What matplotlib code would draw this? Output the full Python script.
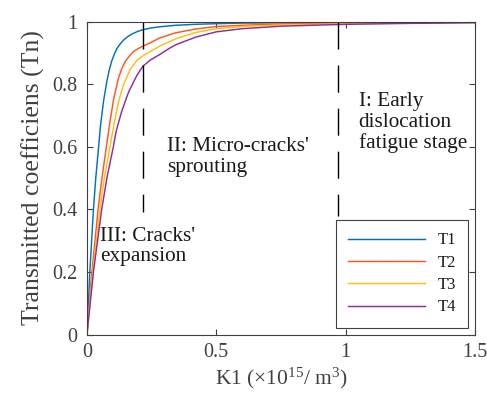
import numpy as np
import matplotlib.pyplot as plt

plt.rcParams['font.family'] = ['Liberation Serif', 'DejaVu Serif']
plt.rcParams['mathtext.fontset'] = 'custom'
plt.rcParams['mathtext.rm'] = 'Liberation Serif'

# values (K1 in 1e15/m^3, Tn)
k_t1 = [0, 0.011, 0.025, 0.034, 0.045, 0.052, 0.064, 0.077, 0.087, 0.097, 0.107, 0.116, 0.13,
        0.142, 0.158, 0.174, 0.195, 0.213, 0.245, 0.28, 0.344, 0.42, 0.5, 0.6, 0.75, 1.0, 1.25, 1.5]
tn_t1 = [0, 0.2, 0.4, 0.5, 0.6, 0.665, 0.745, 0.81, 0.848, 0.877, 0.898, 0.914, 0.93,
         0.941, 0.952, 0.96, 0.968, 0.973, 0.979, 0.983, 0.988, 0.991, 0.993, 0.995, 0.996, 0.998, 0.999, 0.999]

k_t2 = [0, 0.019, 0.043, 0.058, 0.075, 0.088, 0.103, 0.122, 0.135, 0.148, 0.163, 0.18, 0.197,
        0.213, 0.245, 0.28, 0.32, 0.344, 0.42, 0.5, 0.6, 0.75, 1.0, 1.25, 1.5]
tn_t2 = [0, 0.2, 0.4, 0.5, 0.6, 0.675, 0.752, 0.82, 0.85, 0.872, 0.889, 0.904, 0.913,
         0.92, 0.932, 0.947, 0.958, 0.964, 0.976, 0.984, 0.988, 0.992, 0.995, 0.997, 0.998]

k_t3 = [0, 0.022, 0.05, 0.067, 0.089, 0.103, 0.122, 0.142, 0.168, 0.193, 0.216, 0.245, 0.28,
        0.32, 0.344, 0.42, 0.5, 0.6, 0.75, 1.0, 1.25, 1.5]
tn_t3 = [0, 0.2, 0.4, 0.5, 0.6, 0.665, 0.745, 0.8, 0.848, 0.876, 0.89, 0.904, 0.921,
         0.936, 0.945, 0.965, 0.977, 0.984, 0.989, 0.993, 0.995, 0.997]

k_t4 = [0, 0.025, 0.057, 0.077, 0.102, 0.113, 0.135, 0.161, 0.193, 0.216, 0.245, 0.28, 0.32,
        0.344, 0.42, 0.5, 0.6, 0.75, 1.0, 1.25, 1.5]
tn_t4 = [0, 0.2, 0.4, 0.5, 0.6, 0.65, 0.715, 0.775, 0.828, 0.857, 0.877, 0.894, 0.915,
         0.926, 0.95, 0.967, 0.977, 0.985, 0.991, 0.994, 0.996]

labels = ['T1', 'T2', 'T3', 'T4']
colors = ['#0072BD', '#FF5520', '#FFBE10', '#8E2C9E']

# stage boundaries
k_bounds = [0.216, 0.97]
bound_lo = [0.39, 0.38]

stage_txt = ["III: Cracks'\nexpansion", "II: Micro-cracks'\nsprouting", "I: Early\ndislocation\nfatigue stage"]
stage_pos = [(0.05, 0.345), (0.31, 0.63), (1.05, 0.775)]

grey = '#404040'

fig = plt.figure(figsize=(4.87, 3.96), dpi=100)
ax = fig.add_axes([0.1786, 0.1553, 0.7967, 0.7904])

series = [(k_t1, tn_t1), (k_t2, tn_t2), (k_t3, tn_t3), (k_t4, tn_t4)]
for (k, t), lab, c in zip(series, labels, colors):
    ax.plot(k, t, color=c, lw=1.05, label=lab)

for kb, lo in zip(k_bounds, bound_lo):
    ax.plot([kb, kb], [1.0, lo], color='k', lw=1.0, ls=(0, (19.5, 11.5)))

for s, (x, y) in zip(stage_txt, stage_pos):
    ax.text(x, y, s, fontsize=15.3, color='#1a1a1a', ha='left', va='top', linespacing=1.12)

ax.set_xlim(0, 1.5)
ax.set_ylim(0, 1)
ax.set_xticks([0, 0.5, 1, 1.5])
ax.set_xticklabels(['0', '0.5', '1', '1.5'])
ax.set_yticks([0, 0.2, 0.4, 0.6, 0.8, 1])
ax.set_yticklabels(['0', '0.2', '0.4', '0.6', '0.8', '1'])
ax.tick_params(direction='in', top=True, right=True, length=4, width=0.8,
               color=grey, labelcolor=grey, labelsize=14.5)
ax.tick_params(axis='y', pad=7)
ax.tick_params(axis='x', pad=6)
for sp in ax.spines.values():
    sp.set_color(grey)
    sp.set_linewidth(0.8)

ax.set_xlabel('K1 (×$\\mathrm{10^{15}}$/ $\\mathrm{m^{3}}$)', fontsize=15.5, color=grey, labelpad=3)
ax.set_ylabel('Transmitted coefficiens (Tn)', fontsize=18.5, color=grey, labelpad=5)

leg = ax.legend(loc='lower right', fontsize=12, frameon=True, fancybox=False,
                framealpha=1, edgecolor=grey, handlelength=4.6, handletextpad=0.75,
                borderpad=0.75, labelspacing=0.38, borderaxespad=0.4)
leg.get_frame().set_linewidth(0.8)
for t in leg.get_texts():
    t.set_color('#1a1a1a')

fig.savefig('out.png', dpi=100)
